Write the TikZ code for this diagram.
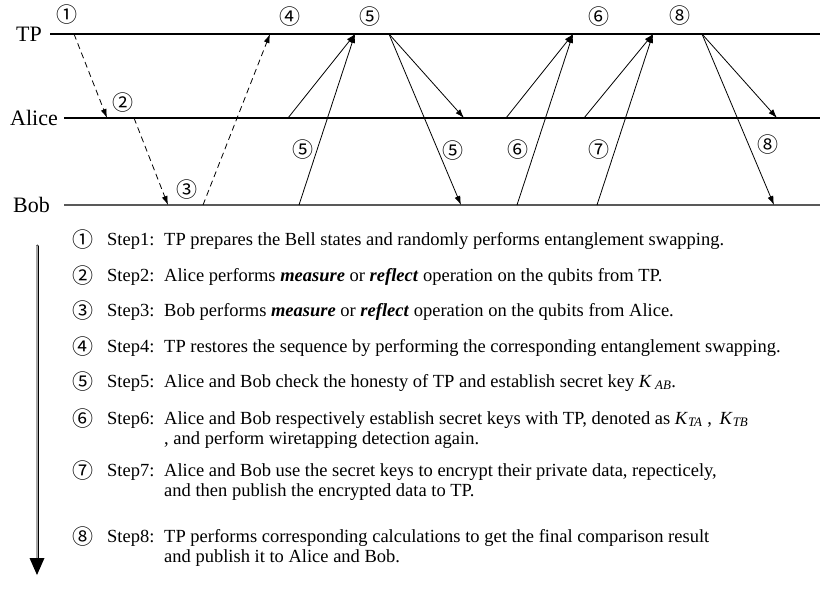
\documentclass[tikz,border=0pt]{standalone}
\usepackage{fontspec}
\setmainfont{Liberation Serif}
\newfontfamily\circfont{Noto Sans CJK SC}
\usetikzlibrary{arrows.meta}
\begin{document}
\begin{tikzpicture}[x=1pt,y=-1pt,
  lane/.style={line width=1.1pt},
  msg/.style={line width=0.8pt,-{Latex[length=9pt,width=6pt]}},
  dmsg/.style={msg,dash pattern=on 6pt off 4pt},
  lanelabel/.style={font=\fontsize{22}{22}\selectfont,anchor=east,inner sep=0},
  num/.style={font=\circfont\fontsize{21}{21}\selectfont,inner sep=0},
  steptext/.style={font=\fontsize{18.5}{20}\selectfont,anchor=base west,inner sep=0},
]
\useasboundingbox (0,0) rectangle (820,591);

% lanes
\node[lanelabel] (tp) at (42,34) {TP};
\node[lanelabel] (alice) at (58,118) {Alice};
\node[lanelabel] (bob) at (50,205) {Bob};
\coordinate (tpL) at (50,34);   \coordinate (tpR) at (820,34);
\coordinate (aL) at (64,118);   \coordinate (aR) at (820,118);
\coordinate (bL) at (64,205);   \coordinate (bR) at (820,205);
\draw[lane] (tpL) -- (tpR);
\draw[lane] (aL) -- (aR);
\draw[lane,black!65,line width=1.6pt] (bL) -- (bR);

% points on lanes
\coordinate (t1) at (74,34);  \coordinate (a1) at (107,118);
\coordinate (a2) at (134,118); \coordinate (b2) at (168,205);
\coordinate (b3) at (203,205); \coordinate (t3) at (270,34);
\coordinate (a4) at (288,118); \coordinate (b4) at (299,205); \coordinate (t4) at (355,34);
\coordinate (t5) at (389,34);  \coordinate (a5) at (464,118); \coordinate (b5) at (461,205);
\coordinate (a6) at (506,118); \coordinate (b6) at (517,205); \coordinate (t6) at (573,34);
\coordinate (a7) at (584,118); \coordinate (b7) at (597,205); \coordinate (t7) at (653,34);
\coordinate (t8) at (702,34);  \coordinate (a8) at (777,118); \coordinate (b8) at (774,205);

% messages
\draw[dmsg] (t1) -- (a1);
\draw[dmsg] (a2) -- (b2);
\draw[dmsg] (b3) -- (t3);
\draw[msg] (a4) -- (t4);
\draw[msg] (b4) -- (t4);
\draw[msg] (t5) -- (a5);
\draw[msg] (t5) -- (b5);
\draw[msg] (a6) -- (t6);
\draw[msg] (b6) -- (t6);
\draw[msg] (a7) -- (t7);
\draw[msg] (b7) -- (t7);
\draw[msg] (t8) -- (a8);
\draw[msg] (t8) -- (b8);

% diagram labels
\node[num] (n1) at (67,15) {①};
\node[num] (n2) at (123,103) {②};
\node[num] (n3) at (187,190) {③};
\node[num] (n4) at (290,17) {④};
\node[num] (n5t) at (370,17) {⑤};
\node[num] (n5a) at (303,150) {⑤};
\node[num] (n5b) at (453,151) {⑤};
\node[num] (n6t) at (599,17) {⑥};
\node[num] (n6) at (518,150) {⑥};
\node[num] (n7) at (599,150) {⑦};
\node[num] (n8t) at (680,16) {⑧};
\node[num] (n8) at (768,145) {⑧};

% time arrow
\coordinate (ttop) at (37,246);
\coordinate (tbot) at (37,560);
\draw[line cap=round,line width=0.7pt,double=black!35,double distance=1.6pt] (ttop) -- (tbot);
\fill (29.5,558) -- (44.5,558) -- (37,575) -- cycle;

% steps
\newcommand{\stp}[1]{\makebox[57pt][l]{#1}}
\node[num] (s1n) at (83,240) {①};
\node[steptext] (s1) at (107,245) {\stp{Step1:}TP prepares the Bell states and randomly performs entanglement swapping.};
\node[num] (s2n) at (83,276) {②};
\node[steptext] (s2) at (107,281) {\stp{Step2:}Alice performs \textbf{\textit{measure}} or \textbf{\textit{reflect}} operation on the qubits from TP.};
\node[num] (s3n) at (83,311) {③};
\node[steptext] (s3) at (107,316) {\stp{Step3:}Bob performs \textbf{\textit{measure}} or \textbf{\textit{reflect}} operation on the qubits from Alice.};
\node[num] (s4n) at (83,347) {④};
\node[steptext] (s4) at (107,352) {\stp{Step4:}TP restores the sequence by performing the corresponding entanglement swapping.};
\node[num] (s5n) at (83,382) {⑤};
\node[steptext] (s5) at (107,387) {\stp{Step5:}Alice and Bob check the honesty of TP and establish secret key \textit{K}\,\textsubscript{\textit{AB}}.};
\node[num] (s6n) at (83,419) {⑥};
\node[steptext] (s6) at (107,424) {\stp{Step6:}Alice and Bob respectively establish secret keys with TP, denoted as \textit{K}\textsubscript{\textit{TA}} ,\, \textit{K}\textsubscript{\textit{TB}}};
\node[steptext] (s6b) at (164,444) {, and perform wiretapping detection again.};
\node[num] (s7n) at (83,471) {⑦};
\node[steptext] (s7) at (107,476) {\stp{Step7:}Alice and Bob use the secret keys to encrypt their private data, repecticely,};
\node[steptext] (s7b) at (164,496) {and then publish the encrypted data to TP.};
\node[num] (s8n) at (83,537) {⑧};
\node[steptext] (s8) at (107,542) {\stp{Step8:}TP performs corresponding calculations to get the final comparison result};
\node[steptext] (s8b) at (164,562) {and publish it to Alice and Bob.};
\end{tikzpicture}
\end{document}
